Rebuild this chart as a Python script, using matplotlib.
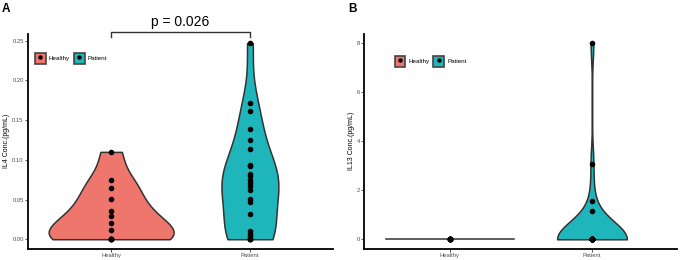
import numpy as np
import matplotlib.pyplot as plt
from matplotlib.patches import Patch
from matplotlib.lines import Line2D

plt.rcParams['font.family'] = ['Liberation Sans', 'DejaVu Sans']

groups = ['Healthy', 'Patient']
colors = ['#EE766C', '#1FB6BB']

il4_healthy = [0.0] * 5 + [0.012, 0.021, 0.029, 0.036, 0.051, 0.065, 0.075, 0.110]
il4_patient = [0.0] * 4 + [0.004, 0.007, 0.010, 0.032, 0.047, 0.051, 0.062, 0.067, 0.071,
                           0.074, 0.079, 0.082, 0.092, 0.094, 0.113, 0.125, 0.139, 0.161, 0.172, 0.247]
il13_healthy = [0.0] * 9
il13_patient = [0.0] * 26 + [1.16, 1.55, 3.08, 8.0]
p_value = 'p = 0.026'


def kde(vals, n=512):
    # gaussian kde, nrd0 bandwidth, trimmed to the data range
    v = np.asarray(vals, float)
    sd = v.std(ddof=1)
    q75, q25 = np.percentile(v, [75, 25])
    lo = min(sd, (q75 - q25) / 1.34) if q75 > q25 else sd
    bw = 0.9 * lo * len(v) ** -0.2
    y = np.linspace(v.min(), v.max(), n)
    d = np.exp(-0.5 * ((y[:, None] - v[None, :]) / bw) ** 2).sum(1)
    return y, d / d.max()


def violin(ax, pos, vals, color, width):
    vals = np.asarray(vals, float)
    if np.ptp(vals) == 0:
        ax.plot([pos - width / 2, pos + width / 2], [vals[0]] * 2, color='#333333', lw=1.1, zorder=2)
    else:
        y, d = kde(vals)
        ax.fill_betweenx(y, pos - d * width / 2, pos + d * width / 2,
                         facecolor=color, edgecolor='#333333', lw=1.1, zorder=2)
    ax.plot(np.full(len(vals), pos), vals, 'o', color='black', ms=3, zorder=3)


def style(ax, ylabel, leg_xy):
    for s in ['top', 'right']:
        ax.spines[s].set_visible(False)
    for s in ['left', 'bottom']:
        ax.spines[s].set_linewidth(1.3)
    ax.tick_params(labelsize=4.2, labelcolor='#4d4d4d', color='#333333', length=2, width=0.6, pad=1)
    ax.set_xticks([1, 2])
    ax.set_xticklabels(groups)
    ax.set_xlim(0.4, 2.6)
    ax.set_ylabel(ylabel, fontsize=5, labelpad=1.5)
    handles = [(Patch(fc=c, ec='#444444', lw=1.2), Line2D([], [], marker='o', color='k', ls='', ms=2.2))
               for c in colors]
    ax.legend(handles, groups, ncol=2, loc='center left', bbox_to_anchor=leg_xy,
              frameon=False, fontsize=4.5, handlelength=1.75, handleheight=2.5,
              columnspacing=0.6, handletextpad=0.5, borderpad=0, borderaxespad=0)


fig = plt.figure(figsize=(6.8, 2.6), dpi=100)
ax1 = fig.add_axes([0.041, 0.042, 0.449, 0.829])
ax2 = fig.add_axes([0.536, 0.042, 0.460, 0.829])

violin(ax1, 1, il4_healthy, colors[0], 0.9)
violin(ax1, 2, il4_patient, colors[1], 0.41)
ax1.set_ylim(-0.0124, 0.259)
ax1.set_yticks(np.arange(0, 0.26, 0.05))
ax1.set_yticklabels([f'{t:.2f}' for t in np.arange(0, 0.26, 0.05)])
style(ax1, 'IL4 Conc.(pg/mL)', (0.023, 0.884))
ax1.plot([1, 1, 2, 2], [0.2546, 0.2604, 0.2604, 0.2546], color='#333333', lw=1, clip_on=False)
ax1.text(1.5, 0.2645, p_value, ha='center', va='bottom', fontsize=10)

violin(ax2, 1, il13_healthy, colors[0], 0.9)
violin(ax2, 2, il13_patient, colors[1], 0.49)
ax2.set_ylim(-0.4, 8.4)
ax2.set_yticks([0, 2, 4, 6, 8])
style(ax2, 'IL13 Conc.(pg/mL)', (0.096, 0.87))

fig.text(0.003, 0.99, 'A', fontsize=8.5, fontweight='bold', va='top')
fig.text(0.512, 0.99, 'B', fontsize=8.5, fontweight='bold', va='top')

fig.savefig('out.png', dpi=100)
